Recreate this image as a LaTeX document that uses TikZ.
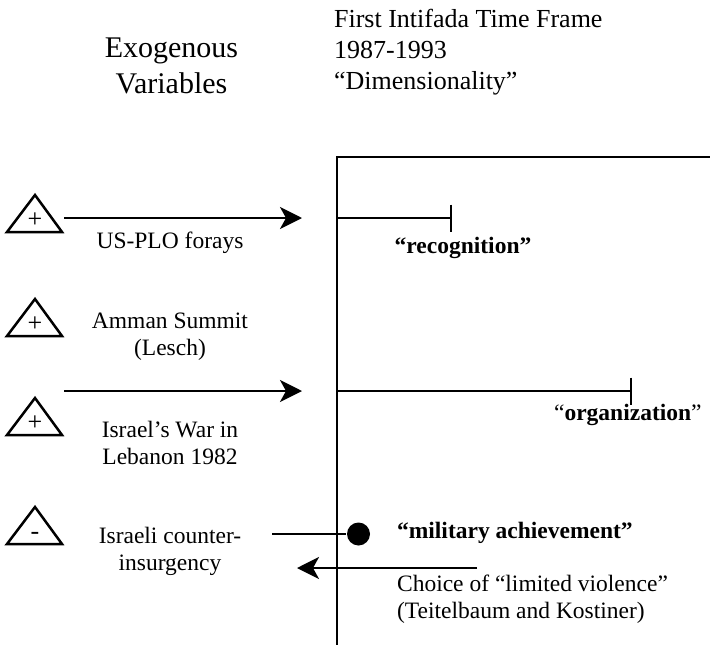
\documentclass[tikz,border=0pt]{standalone}
\usepackage{fontspec}
\setmainfont{Liberation Serif}
\usepackage{tikz}
\usetikzlibrary{positioning,calc,arrows.meta}
\newcommand{\titlefont}{\fontsize{30}{36}\selectfont}
\newcommand{\framefont}{\fontsize{26}{31}\selectfont}
\newcommand{\labfont}{\fontsize{23.5}{27}\selectfont}
\newcommand{\signfont}{\fontsize{26}{30}\selectfont}

\begin{document}
\begin{tikzpicture}[x=1pt, y=-1pt, line width=2.2pt,
    lab/.style={inner sep=0pt, anchor=base, align=center, font=\labfont},
    dim/.style={inner sep=0pt, anchor=base west, align=left, font=\labfont},
    signtri/.style={line width=2.5pt, line join=miter},
    push/.style={-{Stealth[length=22pt, width=22pt, inset=6pt]}},
    stop/.style={-{Bar[width=27pt]}}]
    \useasboundingbox (0,0) rectangle (710,645);

    % headings (base = last line)
    \node [lab, font=\titlefont] (exo) at (171.5,93) {Exogenous\\Variables};
    \node [dim, font=\framefont] (frame) at (333,89) {First Intifada Time Frame\\1987-1993\\“Dimensionality”};

    % time frame axis
    \coordinate (axbot) at (337,645);
    \coordinate (axtop) at (337,157);
    \coordinate (axend) at (710,157);
    \draw [line width=2.5pt] (axbot) -- (axtop) -- (axend);

    % exogenous variables
    \foreach \i/\y/\s in {1/232/+, 2/336/+, 3/435/+, 4/544/-}{
        \draw [signtri] (7,\y) -- (62,\y) -- (35,\y-37) -- cycle;
        \node [inner sep=0pt, anchor=base, font=\signfont] (sign\i) at (35,\y-5) {\s};
    }
    \node [lab] (usplo) at (170,248) {US-PLO forays};
    \node [lab] (amman) at (170,355) {Amman Summit\\(Lesch)};
    \node [lab] (leb) at (170,464) {Israel’s War in\\Lebanon 1982};
    \node [lab] (coin) at (170,570) {Israeli counter-\\insurgency};

    % arrows into the frame
    \coordinate (in1) at (64,218);
    \coordinate (at1) at (302,218);
    \coordinate (in2) at (64,391);
    \coordinate (at2) at (302,391);
    \draw [push] (in1) -- (at1);
    \draw [push] (in2) -- (at2);

    % dimensions
    \coordinate (rec0) at (337,218);
    \coordinate (rec1) at (452,218);
    \coordinate (org0) at (337,391);
    \coordinate (org1) at (632,391);
    \draw [stop] (rec0) -- (rec1);
    \draw [stop] (org0) -- (org1);
    \node [lab] (recog) at (463,253) {\textbf{“recognition”}};
    \node [dim] (organ) at (553,420) {“\textbf{organization}”};

    \node [circle, fill, inner sep=0pt, minimum size=23pt] (dot) at (358.5,534) {};
    \coordinate (coin0) at (272,534);
    \draw (coin0) -- (dot);
    \node [dim] (milit) at (396,538) {\textbf{“military achievement”}};

    \coordinate (lim0) at (477,568);
    \coordinate (lim1) at (297,568);
    \draw [push] (lim0) -- (lim1);
    \node [dim] (limv) at (396,618) {Choice of “limited violence”\\(Teitelbaum and Kostiner)};
\end{tikzpicture}
\end{document}
